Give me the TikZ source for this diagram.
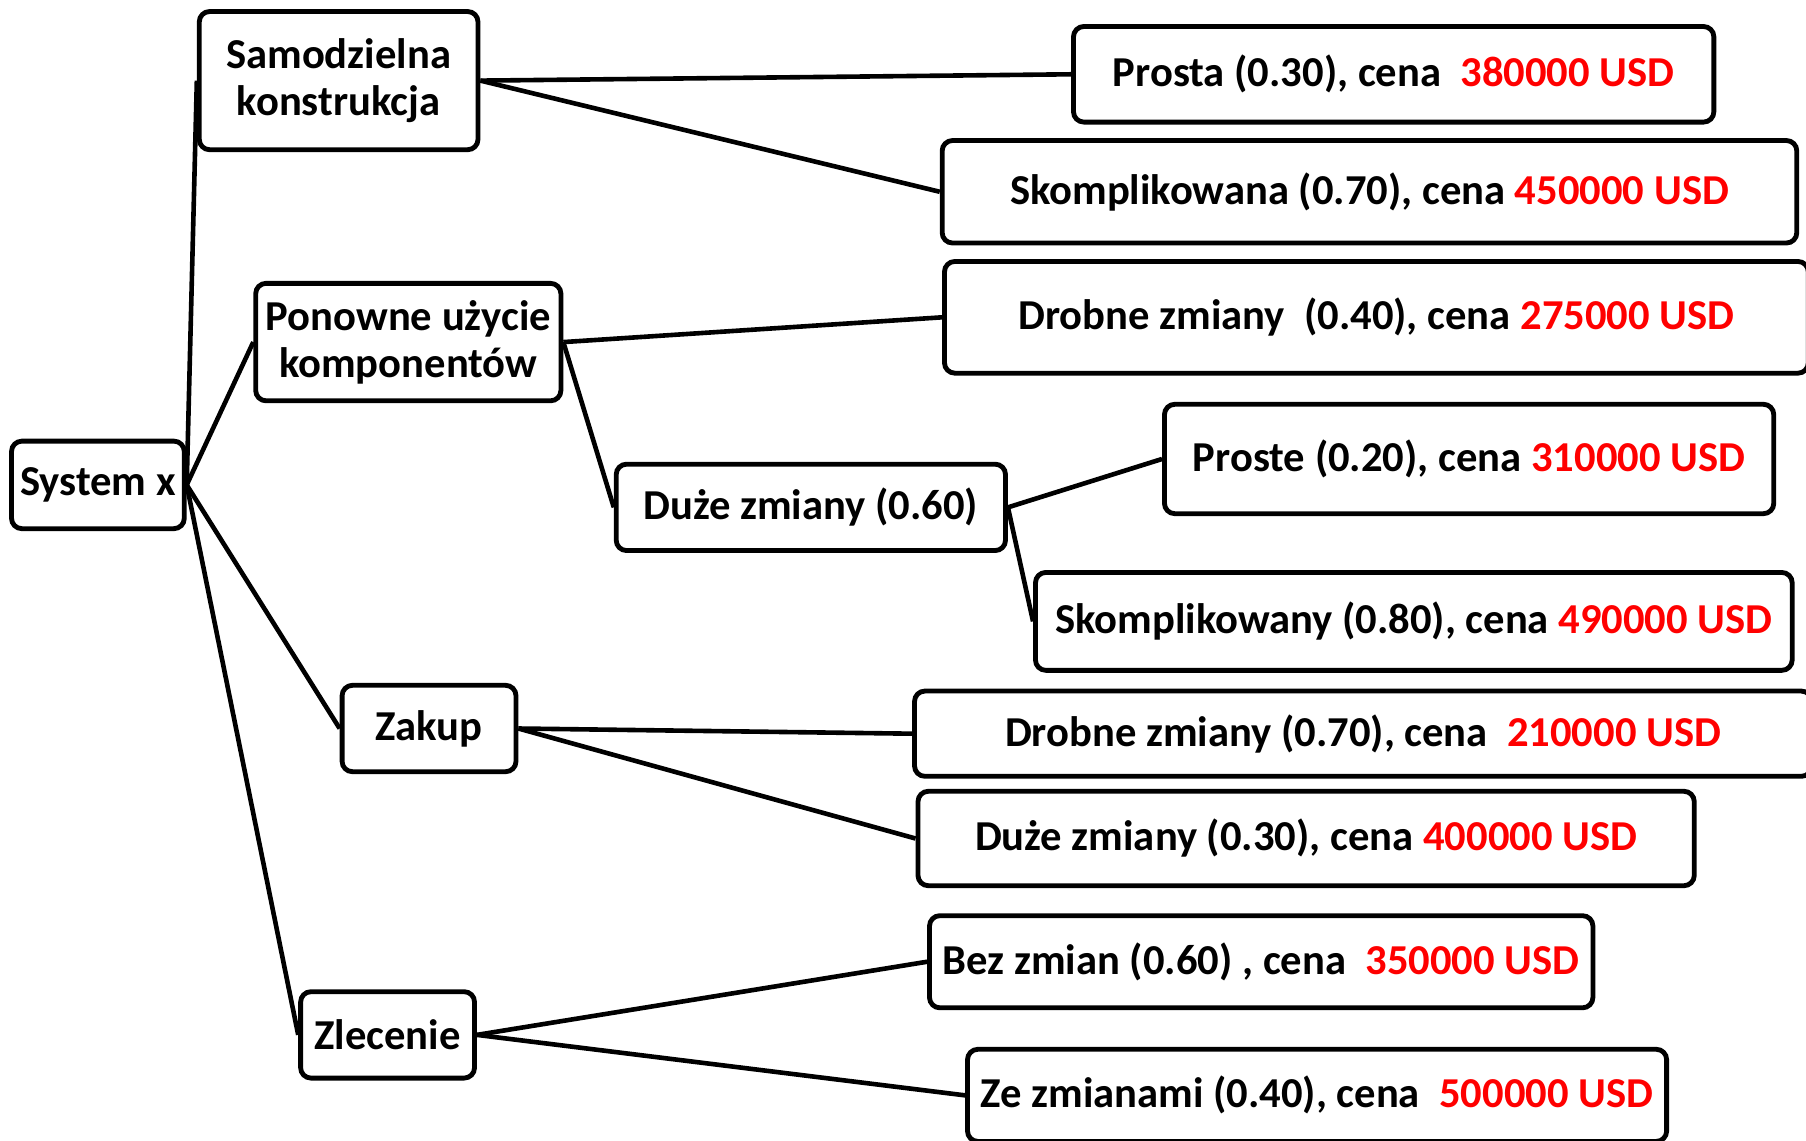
\documentclass[tikz,border=0pt]{standalone}
\usepackage{fontspec}
\setmainfont{Carlito}
\usepackage{xcolor}
\newcommand\usdval[1]{\textcolor{red}{#1}}
\begin{document}
\begin{tikzpicture}[x=0.5pt,y=-0.5pt,
  box/.style={draw, line width=2.1pt, rounded corners=4.5pt, inner sep=0pt, align=center,
    font=\fontsize{18.5}{20.5}\selectfont\bfseries},
  conn/.style={line width=2pt}]
\useasboundingbox (0,0) rectangle (1568,990);
% left column
\node[box, minimum width=75pt, minimum height=38pt] (sys) at (85,421) {System x};
\node[box, minimum width=121pt, minimum height=60pt] (sam) at (294,70) {Samodzielna\\konstrukcja};
\node[box, minimum width=132.5pt, minimum height=51pt] (pon) at (354.5,297) {Ponowne użycie\\komponentów};
\node[box, minimum width=169pt, minimum height=37.5pt] (duz) at (704,440.5) {Duże zmiany (0.60)};
\node[box, minimum width=75.5pt, minimum height=37.5pt] (zak) at (372.5,632.5) {Zakup};
\node[box, minimum width=75.5pt, minimum height=37.5pt] (zle) at (336.5,898.5) {Zlecenie};
% right column
\node[box, minimum width=278pt, minimum height=41.5pt] (a1) at (1210,64.5) {Prosta (0.30), cena\ \ \usdval{380000 USD}};
\node[box, minimum width=371pt, minimum height=44.5pt] (a2) at (1189,166.5) {Skomplikowana (0.70), cena \usdval{450000 USD}};
\node[box, minimum width=375pt, minimum height=48.5pt] (b1) at (1195,275.5) {Drobne zmiany\ \ (0.40), cena \usdval{275000 USD}};
\node[box, minimum width=264.5pt, minimum height=47.5pt] (c1) at (1275.5,398.5) {Proste (0.20), cena \usdval{310000 USD}};
\node[box, minimum width=328.5pt, minimum height=42.5pt] (c2) at (1227.5,539.5) {Skomplikowany (0.80), cena \usdval{490000 USD}};
\node[box, minimum width=389.5pt, minimum height=37pt] (d1) at (1183.5,637) {Drobne zmiany (0.70), cena\ \ \usdval{210000 USD}};
\node[box, minimum width=337pt, minimum height=41pt] (d2) at (1134,728) {Duże zmiany (0.30), cena \usdval{400000 USD}};
\node[box, minimum width=288pt, minimum height=40pt] (e1) at (1095,835) {Bez zmian (0.60) , cena\ \ \usdval{350000 USD}};
\node[box, minimum width=303.5pt, minimum height=40pt] (e2) at (1143.5,951) {Ze zmianami (0.40), cena\ \ \usdval{500000 USD}};
% connectors
\draw[conn] (sys.east) -- (sam.west);
\draw[conn] (sys.east) -- (pon.west);
\draw[conn] (sys.east) -- (zak.west);
\draw[conn] (sys.east) -- (zle.west);
\draw[conn] (sam.east) -- (a1.west);
\draw[conn] (sam.east) -- (a2.west);
\draw[conn] (pon.east) -- (b1.west);
\draw[conn] (pon.east) -- (duz.west);
\draw[conn] (duz.east) -- (c1.west);
\draw[conn] (duz.east) -- (c2.west);
\draw[conn] (zak.east) -- (d1.west);
\draw[conn] (zak.east) -- (d2.west);
\draw[conn] (zle.east) -- (e1.west);
\draw[conn] (zle.east) -- (e2.west);
\end{tikzpicture}
\end{document}
